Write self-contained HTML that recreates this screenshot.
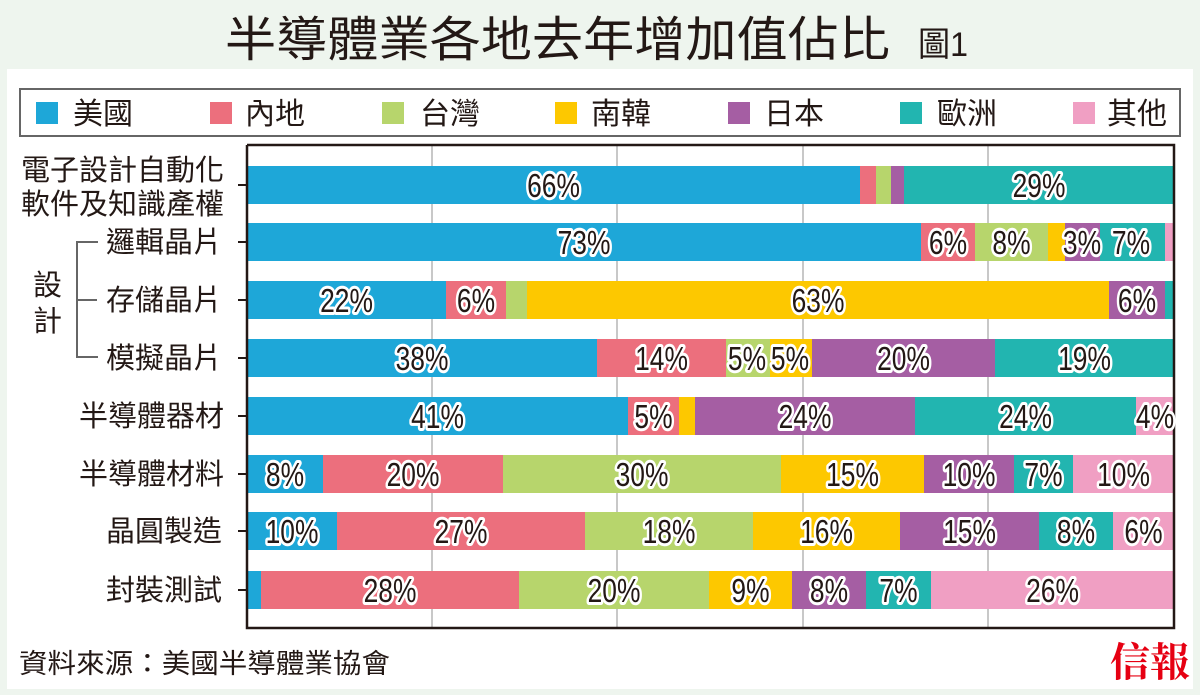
<!DOCTYPE html>
<html><head><meta charset="utf-8"><style>
html,body{margin:0;padding:0;background:#eef5ee;}
svg{display:block;}
.c{font-family:"Liberation Sans","Noto Sans CJK TC",sans-serif;fill:#231815;}
.p{font-family:"Liberation Sans",sans-serif;font-size:33px;fill:#231815;stroke:#fff;stroke-width:6px;paint-order:stroke;stroke-linejoin:round;text-anchor:middle;}
</style></head><body>
<svg width="1200" height="695" viewBox="0 0 1200 695" xmlns="http://www.w3.org/2000/svg">
<rect x="0" y="0" width="1200" height="695" fill="#eef5ee"/>
<rect x="7" y="69" width="1186" height="620" fill="#fff"/>
<text class="c" x="225" y="56" font-size="48" textLength="665" lengthAdjust="spacingAndGlyphs">半導體業各地去年增加值佔比</text>
<text class="c" x="918" y="56" font-size="34" textLength="50" lengthAdjust="spacingAndGlyphs">圖1</text>
<rect x="20" y="89" width="1160" height="47" fill="#fff" stroke="#666" stroke-width="2"/>
<g font-size="30" class="c">
<rect x="36" y="102" width="22" height="22" fill="#1ea7d8"/><text class="c" x="73" y="124">美國</text>
<rect x="210" y="102" width="22" height="22" fill="#ec6f7d"/><text class="c" x="245" y="124">內地</text>
<rect x="382" y="102" width="22" height="22" fill="#b7d56c"/><text class="c" x="420" y="124">台灣</text>
<rect x="555" y="102" width="22" height="22" fill="#fdc800"/><text class="c" x="591" y="124">南韓</text>
<rect x="728" y="102" width="22" height="22" fill="#a55ea3"/><text class="c" x="764" y="124">日本</text>
<rect x="900" y="102" width="22" height="22" fill="#22b5b0"/><text class="c" x="937" y="124">歐洲</text>
<rect x="1073" y="102" width="22" height="22" fill="#f09fc3"/><text class="c" x="1107" y="124">其他</text>
</g>
<g stroke="#c8c8c8" stroke-width="2">
<line x1="432" y1="146" x2="432" y2="627"/><line x1="617" y1="146" x2="617" y2="627"/>
<line x1="803" y1="146" x2="803" y2="627"/><line x1="988" y1="146" x2="988" y2="627"/>
</g>
<g id="bars"></g>
<g stroke="#231815" stroke-width="2.5" fill="none">
<polyline points="247,145 1174,145 1174,628 247,628 247,145"/>
</g>
<g stroke="#231815" stroke-width="2">
<line x1="238" y1="185" x2="247" y2="185"/><line x1="238" y1="242" x2="247" y2="242"/>
<line x1="238" y1="300" x2="247" y2="300"/><line x1="238" y1="358" x2="247" y2="358"/>
<line x1="238" y1="416" x2="247" y2="416"/><line x1="238" y1="474" x2="247" y2="474"/>
<line x1="238" y1="531" x2="247" y2="531"/><line x1="238" y1="590" x2="247" y2="590"/>
</g>
<g stroke="#666" stroke-width="2" fill="none">
<polyline points="98,242 77,242 77,357 98,357"/><line x1="77" y1="300" x2="97" y2="300"/>
</g>
<g class="c" font-size="29" text-anchor="end">
<text x="224" y="180">電子設計自動化</text>
<text x="224" y="214">軟件及知識產權</text>
<text x="222" y="252">邏輯晶片</text>
<text x="222" y="310">存儲晶片</text>
<text x="222" y="368">模擬晶片</text>
<text x="224" y="426">半導體器材</text>
<text x="224" y="484">半導體材料</text>
<text x="222" y="541">晶圓製造</text>
<text x="222" y="600">封裝測試</text>
</g>
<text class="c" x="33" y="295" font-size="29">設</text>
<text class="c" x="33" y="331" font-size="29">計</text>
<text class="c" x="19" y="673" font-size="27" textLength="371" lengthAdjust="spacingAndGlyphs">資料來源：美國半導體業協會</text>
<text x="1110" y="676" font-size="40" font-weight="bold" fill="#e60012" font-family="'Noto Serif CJK SC','Noto Sans CJK TC',serif">信報</text>
<g id="labels"></g>
<script>
var C=["#1ea7d8","#ec6f7d","#b7d56c","#fdc800","#a55ea3","#22b5b0","#f09fc3"];
var rows=[
[185,[[247,860,0,"66%"],[860,876,1],[876,891,2],[891,904,4],[904,1174,5,"29%"]]],
[242,[[247,921,0,"73%"],[921,975,1,"6%"],[975,1048,2,"8%"],[1048,1065,3],[1065,1100,4,"3%",1082],[1100,1165,5,"7%",1131],[1165,1174,6]]],
[300,[[247,446,0,"22%"],[446,506,1,"6%"],[506,527,2],[527,1109,3,"63%"],[1109,1165,4,"6%"],[1165,1174,5]]],
[358,[[247,597,0,"38%"],[597,726,1,"14%"],[726,770,2,"5%",747],[770,812,3,"5%",790],[812,995,4,"20%"],[995,1174,5,"19%"]]],
[416,[[247,628,0,"41%"],[628,679,1,"5%"],[679,695,3],[695,915,4,"24%"],[915,1136,5,"24%"],[1136,1174,6,"4%",1155]]],
[474,[[247,323,0,"8%"],[323,503,1,"20%"],[503,781,2,"30%"],[781,924,3,"15%"],[924,1014,4,"10%"],[1014,1073,5,"7%"],[1073,1174,6,"10%"]]],
[531,[[247,337,0,"10%"],[337,585,1,"27%"],[585,753,2,"18%"],[753,900,3,"16%"],[900,1039,4,"15%"],[1039,1113,5,"8%"],[1113,1174,6,"6%"]]],
[590,[[247,261,0],[261,519,1,"28%"],[519,709,2,"20%"],[709,792,3,"9%"],[792,866,4,"8%"],[866,931,5,"7%"],[931,1174,6,"26%"]]]
];
var NS="http://www.w3.org/2000/svg",b=document.getElementById("bars"),l=document.getElementById("labels");
rows.forEach(function(r){var y=r[0];r[1].forEach(function(s){
var e=document.createElementNS(NS,"rect");e.setAttribute("x",s[0]);e.setAttribute("y",y-19);e.setAttribute("width",s[1]-s[0]);e.setAttribute("height",38);e.setAttribute("fill",C[s[2]]);b.appendChild(e);
if(s[3]){var cx=s[4]||(s[0]+s[1])/2;var t=document.createElementNS(NS,"text");t.setAttribute("class","p");t.setAttribute("transform","translate("+cx+","+(y+12)+") scale(0.8,1)");t.textContent=s[3];l.appendChild(t);}
});});
</script>
</svg>
</body></html>
